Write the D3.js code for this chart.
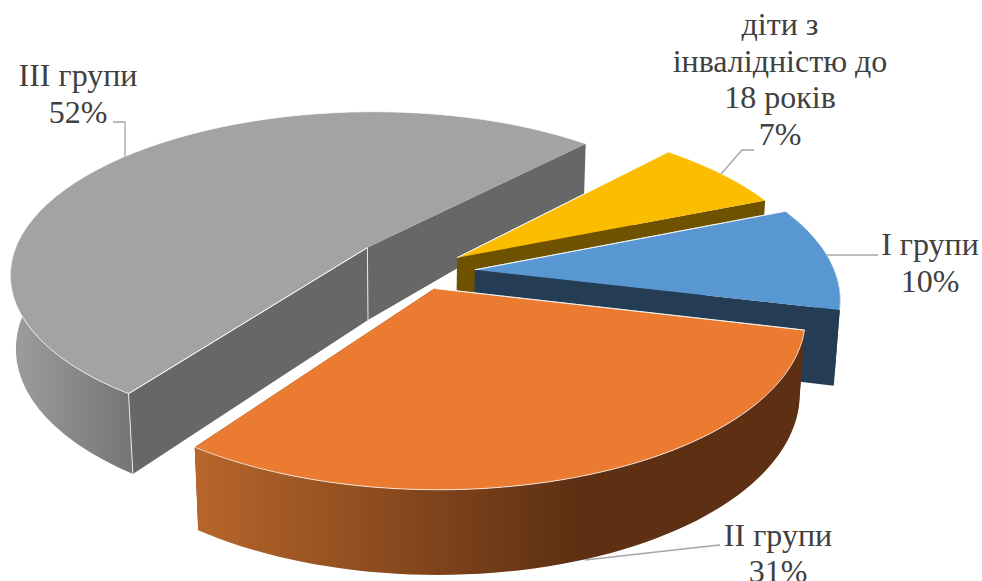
<!DOCTYPE html>
<html>
<head>
<meta charset="utf-8">
<script src="https://cdnjs.cloudflare.com/ajax/libs/d3/7.8.5/d3.min.js"></script>
<style>
html,body{margin:0;padding:0;background:#fff;overflow:hidden}
text{font-family:"Liberation Serif","Times New Roman",serif;font-size:32px;fill:#404040}
</style>
</head>
<body>
<div id="chart"></div>
<script>
// values, in the order of the slices
const categories = ["I групи", "II групи", "III групи", "діти з інвалідністю до 18 років"];
const shares = [10, 31, 52, 7];
const labelLines = [["I групи", "10%"], ["II групи", "31%"], ["III групи", "52%"], ["діти з", "інвалідністю до", "18 років", "7%"]];

const topColors = ["#5997d3", "#eb7b30", "#a3a3a3", "#fbbd00"];
const cutColors = ["#243d54", "#5e3013", "#676767", "#6e5200"];
const rimFrom = ["#243d54", "#b8662a", "#9c9c9c", "#6e5200"];
const rimTo = ["#243d54", "#5e3013", "#767676", "#6e5200"];

const width = 982, height = 581;
const cx = 414, cy = 263.6;      // screen position of the unexploded pie centre
const elev = 26.9 * Math.PI / 180, dist = 5.75, focal = 2054;
const thick = 0.233, explode = 0.16;
const firstAngle = 67.7 * Math.PI / 180;
// blue and yellow sit a little lower than a plain explode puts them
const nudgeU = [0.01, 0, -0.008, -0.01], nudgeV = [0.05, 0, 0, 0.055];

const svg = d3.select("#chart").append("svg").attr("width", width).attr("height", height);
const defs = svg.append("defs");

// u to the right, v towards the viewer, z up (pie radius = 1)
const project = (u, v, z) => {
    // the back of the excel chart is thinner than a true perspective gives
    const zz = z * (1 + 0.43 * Math.min(v + 0.3, 0));
    const yc = v * Math.sin(elev) - zz * Math.cos(elev);
    const zc = dist - v * Math.cos(elev) - 0.75 * zz * Math.sin(elev);
    return [cx + focal * u / zc, cy + focal * yc / zc];
};

const pie = d3.pie().sort(null).value(d => d).startAngle(firstAngle).endAngle(firstAngle + 2 * Math.PI);
const slices = pie(shares);
const line = d3.line();

const offsetOf = s => {
    const mid = (s.startAngle + s.endAngle) / 2;
    return [explode * Math.sin(mid) + nudgeU[s.index], -explode * Math.cos(mid) + nudgeV[s.index]];
};
const rimPoint = (s, a, z) => {
    const o = offsetOf(s);
    return project(o[0] + Math.sin(a), o[1] - Math.cos(a), z);
};
const apex = (s, z) => {
    const o = offsetOf(s);
    return project(o[0], o[1], z);
};
const arcAngles = s => d3.range(0, 61).map(i => s.startAngle + (s.endAngle - s.startAngle) * i / 60);
const arcPoints = (s, z) => arcAngles(s).map(a => rimPoint(s, a, z));

// back to front: grey, yellow, blue, orange
const drawOrder = [2, 3, 0, 1];

drawOrder.forEach(i => {
    const s = slices[i];
    const g = svg.append("g");
    const top = arcPoints(s, 0);

    // the two cut faces
    [s.startAngle, s.endAngle].forEach(a => {
        g.append("path")
            .attr("d", line([apex(s, 0), rimPoint(s, a, 0), rimPoint(s, a, -thick), apex(s, -thick)]) + "Z")
            .attr("fill", cutColors[i]);
    });

    const xExt = d3.extent(top.filter(p => p[1] > cy + 40), p => p[0]);
    const grad = defs.append("linearGradient").attr("id", "rim" + i)
        .attr("gradientUnits", "userSpaceOnUse")
        .attr("x1", xExt[0] || 0).attr("x2", i == 1 ? (xExt[0] + (xExt[1] - xExt[0]) * 0.62) : (xExt[1] || 1))
        .attr("y1", 0).attr("y2", 0);
    grad.append("stop").attr("offset", 0).attr("stop-color", rimFrom[i]);
    grad.append("stop").attr("offset", 1).attr("stop-color", rimTo[i]);

    // outer wall, only the part that faces the viewer
    const frontAngles = arcAngles(s).filter(a => Math.cos(a) < Math.cos(elev) / dist);
    if (frontAngles.length) {
        const wallTop = frontAngles.map(a => rimPoint(s, a, 0));
        const wallBottom = frontAngles.map(a => rimPoint(s, a, -thick));
        g.append("path")
            .attr("d", line(wallTop.concat(wallBottom.reverse())) + "Z")
            .attr("fill", "url(#rim" + i + ")");
    }

    // light seams on the grey corners
    if (i == 2) {
        g.append("path").attr("d", line([rimPoint(s, s.startAngle, 0), rimPoint(s, s.startAngle, -thick)]))
            .attr("stroke", "#e8e8e8").attr("stroke-width", 1).attr("fill", "none");
        g.append("path").attr("d", line([apex(s, 0), apex(s, -thick)]))
            .attr("stroke", "#e8e8e8").attr("stroke-width", 1).attr("fill", "none");
    }

    // top face
    g.append("path")
        .attr("d", line([apex(s, 0)].concat(top)) + "Z")
        .attr("fill", topColors[i]);
    g.append("path")
        .attr("d", line(top.slice().reverse().concat([apex(s, 0), top[0]])))
        .attr("fill", "none").attr("stroke", "#fff").attr("stroke-width", 1).attr("stroke-opacity", 0.75);
});

// labels with their elbow leaders
const leaders = [
    { at: [827, 255], via: [878, 255], to: [878, 255] },
    { at: [585, 560], via: [710, 546], to: [720, 545] },
    { at: [125, 157], via: [125, 122], to: [113, 122] },
    { at: [721, 174], via: [742, 150], to: [754, 150] }
];
const labelPos = [[930, 255], [778, 546], [78, 86], [780, 35]];
const lineGap = [37, 36, 36.5, 36.6];

leaders.forEach(d => {
    svg.append("path").attr("d", line([d.at, d.via, d.to]))
        .attr("fill", "none").attr("stroke", "#a6a6a6").attr("stroke-width", 1.3);
});

labelLines.forEach((lines, i) => {
    const t = svg.append("text").attr("text-anchor", "middle");
    lines.forEach((txt, k) => {
        t.append("tspan").attr("x", labelPos[i][0]).attr("y", labelPos[i][1] + k * lineGap[i]).text(txt);
    });
});
</script>
</body>
</html>
